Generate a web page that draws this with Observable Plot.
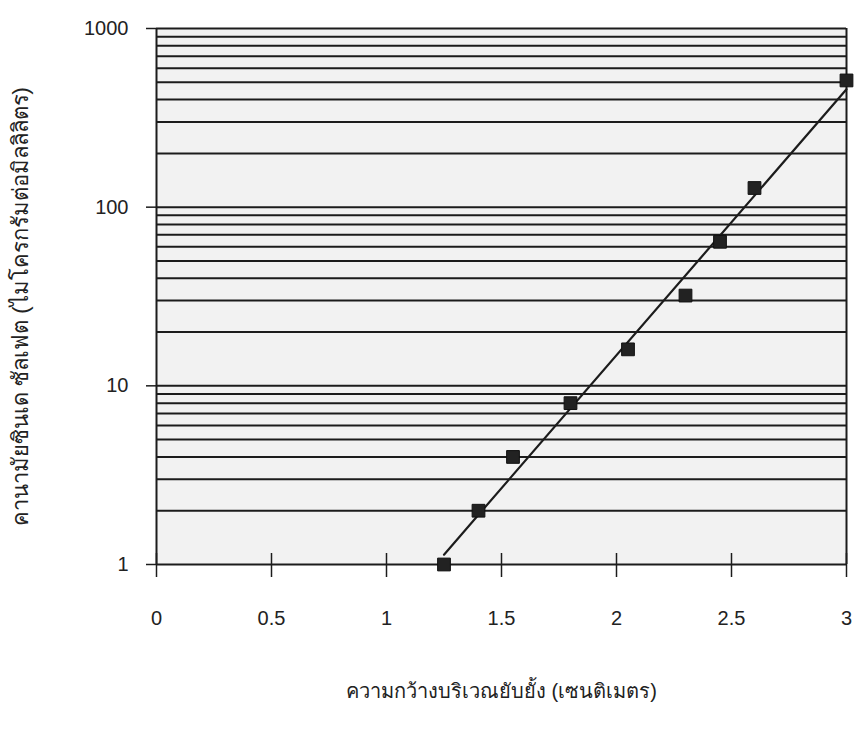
<!DOCTYPE html>
<html>
<head>
<meta charset="utf-8">
<script src="https://cdn.jsdelivr.net/npm/d3@7"></script>
<script src="https://cdn.jsdelivr.net/npm/@observablehq/plot@0.6"></script>
<style>
  body { margin: 0; background: #ffffff; }
  #chart svg { display: block; }
</style>
</head>
<body>
<div id="chart"></div>
<script>
// Data
const zoneWidth = [1.25, 1.4, 1.55, 1.8, 2.05, 2.3, 2.45, 2.6, 3.0];   // cm
const concentration = [1, 2, 4, 8, 16, 32, 64, 128, 512];            // µg/ml
const xTicks = [0, 0.5, 1, 1.5, 2, 2.5, 3];
const yTicks = [1, 10, 100, 1000];
const yGrid = [1, 2, 3, 4, 5, 6, 7, 8, 9,
               10, 20, 30, 40, 50, 60, 70, 80, 90,
               100, 200, 300, 400, 500, 600, 700, 800, 900, 1000];
const xLabel = "ความกว้างบริเวณยับยั้ง (เซนติเมตร)";
const yLabel = "คานามัยซินเด ซัลเฟต (ไมโครกรัมต่อมิลลิลิตร)";

const points = zoneWidth.map((x, i) => ({x, y: concentration[i]}));

// exponential trend line (least squares on log10 of concentration)
const ly = concentration.map(Math.log10);
const mx = d3.mean(zoneWidth), my = d3.mean(ly);
const slope = d3.sum(zoneWidth, (x, i) => (x - mx) * (ly[i] - my)) / d3.sum(zoneWidth, x => (x - mx) ** 2);
const intercept = my - slope * mx;
const trend = d3.extent(zoneWidth).map(x => ({x, y: 10 ** (intercept + slope * x)}));

const ink = "#1c1c1c";

const chart = Plot.plot({
  width: 857,
  height: 737,
  marginLeft: 156,
  marginRight: 11,
  marginTop: 28,
  marginBottom: 173,
  style: {fontFamily: "'Liberation Sans', Arial, sans-serif", fontSize: "20px", color: "#222", background: "transparent"},
  x: {domain: [0, 3]},
  y: {type: "log", domain: [1, 1000]},
  marks: [
    Plot.frame({fill: "#f2f2f2", stroke: null}),
    Plot.ruleY(yGrid, {stroke: ink, strokeWidth: 2}),
    Plot.ruleX([0, 3], {stroke: ink, strokeWidth: 2}),
    Plot.ruleX(xTicks, {x: d => d, y1: 1, y2: 1, insetTop: -11, insetBottom: -13, stroke: ink, strokeWidth: 1.5}),
    Plot.axisX(xTicks, {tickSize: 0, tickPadding: 46, tickFormat: d => String(d), label: null, fontSize: 20}),
    Plot.axisY(yTicks, {tickSize: 10, tickPadding: 18, tickFormat: d => String(d), label: null, fontSize: 20, stroke: ink, strokeWidth: 1.5}),
    Plot.line(trend, {x: "x", y: "y", stroke: ink, strokeWidth: 2.2}),
    Plot.dot(points, {x: "x", y: "y", symbol: "square", r: 7.2, fill: "#222", stroke: "#111", strokeWidth: 1}),
    Plot.text([xLabel], {frameAnchor: "bottom", dy: 133, fontSize: 20, fill: "#222"}),
    Plot.text([yLabel], {frameAnchor: "left", dx: -136, dy: 10, rotate: -90, textAnchor: "middle", fontSize: 22, fill: "#222"})
  ]
});
document.getElementById("chart").append(chart);
</script>
</body>
</html>
